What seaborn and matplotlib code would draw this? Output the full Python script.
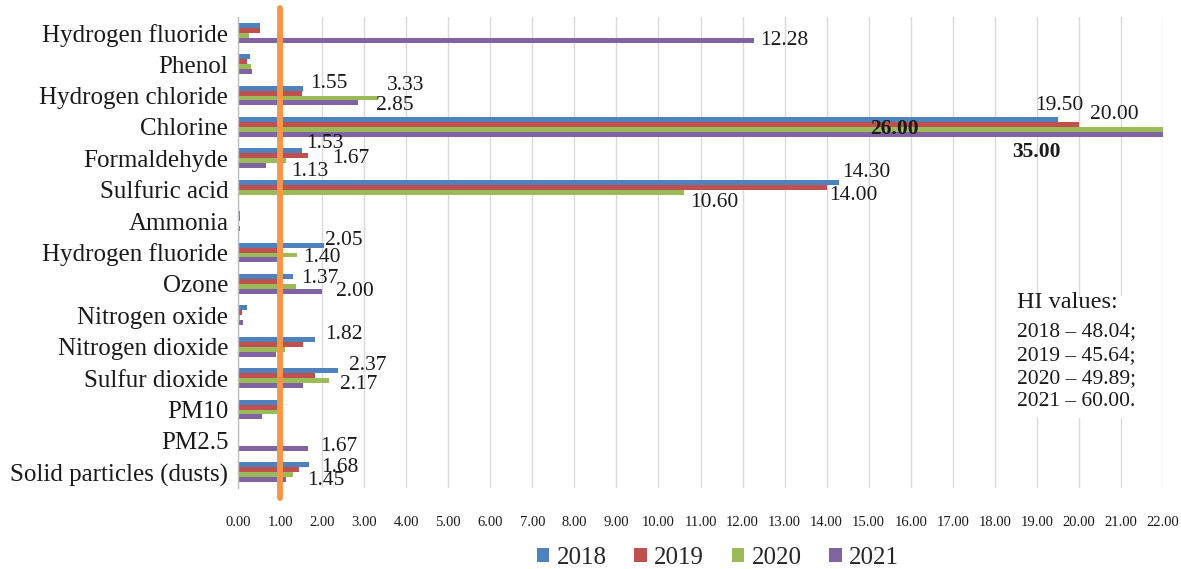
import matplotlib
matplotlib.use("Agg")
import matplotlib.pyplot as plt
import pandas as pd
import seaborn as sns
from matplotlib.patches import Patch, Rectangle

# Hazard quotients by substance and year
substances = ["Hydrogen fluoride", "Phenol", "Hydrogen chloride", "Chlorine",
              "Formaldehyde", "Sulfuric acid", "Ammonia", "Hydrogen fluoride",
              "Ozone", "Nitrogen oxide", "Nitrogen dioxide", "Sulfur dioxide",
              "PM10", "PM2.5", "Solid particles (dusts)"]
years = ["2018", "2019", "2020", "2021"]

hq_2018 = [0.52, 0.29, 1.55, 19.50, 1.53, 14.30, 0.05, 2.05, 1.30, 0.22, 1.82, 2.37, 0.96, 0.00, 1.68]
hq_2019 = [0.52, 0.21, 1.52, 20.00, 1.67, 14.00, 0.04, 0.95, 0.95, 0.10, 1.54, 1.83, 0.96, 0.00, 1.45]
hq_2020 = [0.26, 0.32, 3.33, 26.00, 1.13, 10.60, 0.03, 1.40, 1.37, 0.05, 1.12, 2.17, 0.96, 0.00, 1.30]
hq_2021 = [12.28, 0.34, 2.85, 35.00, 0.67, 0.00, 0.04, 0.95, 2.00, 0.11, 0.90, 1.54, 0.58, 1.67, 1.14]

hi_totals = [48.04, 45.64, 49.89, 60.00]

x_ticks = list(range(0, 23))
x_max = 22
threshold = 1.0

# Value labels: (row, year index, dx px, dy px, bold)
label_specs = [
    (0, 3, 6, 0, False),
    (2, 0, 7, -5, False),
    (2, 2, 9, -12, False),
    (2, 3, 18, 3, False),
    (3, 0, -23, -14, False),
    (3, 1, 11, -10, False),
    (3, 2, -293, 0, True),
    (3, 3, -151, 18, True),
    (4, 0, 4, -7, False),
    (4, 1, 24, 3, False),
    (4, 2, 6, 11, False),
    (5, 0, 3, -10, False),
    (5, 1, 3, 8, False),
    (5, 2, 6, 10, False),
    (7, 0, 1, -5, False),
    (7, 2, 6, 3, False),
    (8, 2, 6, -8, False),
    (8, 3, 14, 0, False),
    (10, 0, 11, -5, False),
    (11, 0, 11, -5, False),
    (11, 2, 11, 4, False),
    (13, 3, 12, -2, False),
    (14, 0, 13, 3, False),
    (14, 1, 8, 11, False),
]

palette = ["#4F81BD", "#C0504D", "#9BBB59", "#8064A2"]

series = [hq_2018, hq_2019, hq_2020, hq_2021]
rows = []
for yr, vals in zip(years, series):
    for i, v in enumerate(vals):
        rows.append({"key": str(i), "year": yr, "value": v})
df = pd.DataFrame(rows)

sns.set_theme(style="white")
plt.rcParams["font.family"] = ["Liberation Serif", "DejaVu Serif"]

W, H = 1181, 569
fig = plt.figure(figsize=(W / 100, H / 100), dpi=100)
ax_l, ax_r, ax_t, ax_b = 238, 1163, 17, 488
ax = fig.add_axes([ax_l / W, 1 - ax_b / H, (ax_r - ax_l) / W, (ax_b - ax_t) / H])

sns.barplot(data=df, y="key", x="value", hue="year", order=[str(i) for i in range(len(substances))],
            hue_order=years, palette=palette, orient="h", width=0.63, saturation=1,
            errorbar=None, linewidth=0, ax=ax, legend=False, zorder=2)

ax.set_xlim(0, x_max)
ax.set_xticks(x_ticks)
ax.set_xticklabels([f"{t:.2f}" for t in x_ticks], fontsize=10.5, color="#1a1a1a")
ax.set_yticks(range(len(substances)))
ax.set_yticklabels(substances, fontsize=18, color="#1a1a1a")
ax.set_xlabel("")
ax.set_ylabel("")
ax.tick_params(axis="x", length=0, pad=20)
ax.tick_params(axis="y", length=0, pad=7)

ax.grid(axis="x", color="#D9D9D9", linewidth=1.0, zorder=0)
ax.set_axisbelow(True)
for s in ["top", "right", "bottom"]:
    ax.spines[s].set_visible(False)
ax.spines["left"].set_color("#BFBFBF")
ax.spines["left"].set_linewidth(1.0)

# Reference level HQ = 1
h_ax = ax_b - ax_t
ax.axvline(threshold, ymin=-(498 - ax_b) / h_ax, ymax=1 + (ax_t - 8) / h_ax,
           color="#F79646", linewidth=4.2, clip_on=False, zorder=6)

# Value labels anchored on the bar ends
for row, k, dx, dy, bold in label_specs:
    bar = ax.containers[k][row]
    val = series[k][row]
    xend = min(bar.get_width(), x_max)
    yc = bar.get_y() + bar.get_height() / 2
    ax.annotate(f"{val:.2f}", xy=(xend, yc), xytext=(dx, -dy), textcoords="offset pixels",
                ha="left", va="center", fontsize=15.5, color="#1a1a1a",
                fontweight="bold" if bold else "normal", zorder=7, annotation_clip=False)

# HI summary box
fig.patches.append(Rectangle((1012 / W, 1 - 418 / H), (1150 - 1012) / W, (418 - 296) / H,
                             transform=fig.transFigure, facecolor="white", edgecolor="none",
                             zorder=3))
fig.text(1017 / W, 1 - 303 / H, "HI values:", fontsize=17.5, ha="left", va="center",
         color="#1a1a1a", zorder=4)
for i, (yr, v) in enumerate(zip(years, hi_totals)):
    end = "." if i == len(years) - 1 else ";"
    fig.text(1017 / W, 1 - (332 + 23.3 * i) / H, f"{yr} \u2013 {v:.2f}{end}", fontsize=15.5,
             ha="left", va="center", color="#1a1a1a", zorder=4)

handles = [Patch(facecolor=c, edgecolor="none") for c in palette]
fig.legend(handles, years, loc="center", bbox_to_anchor=(718 / W, 1 - 558 / H), ncol=4,
           frameon=False, fontsize=18, handlelength=0.5, handleheight=0.5,
           handletextpad=0.3, columnspacing=1.1)

fig.savefig("out.png", dpi=100)
